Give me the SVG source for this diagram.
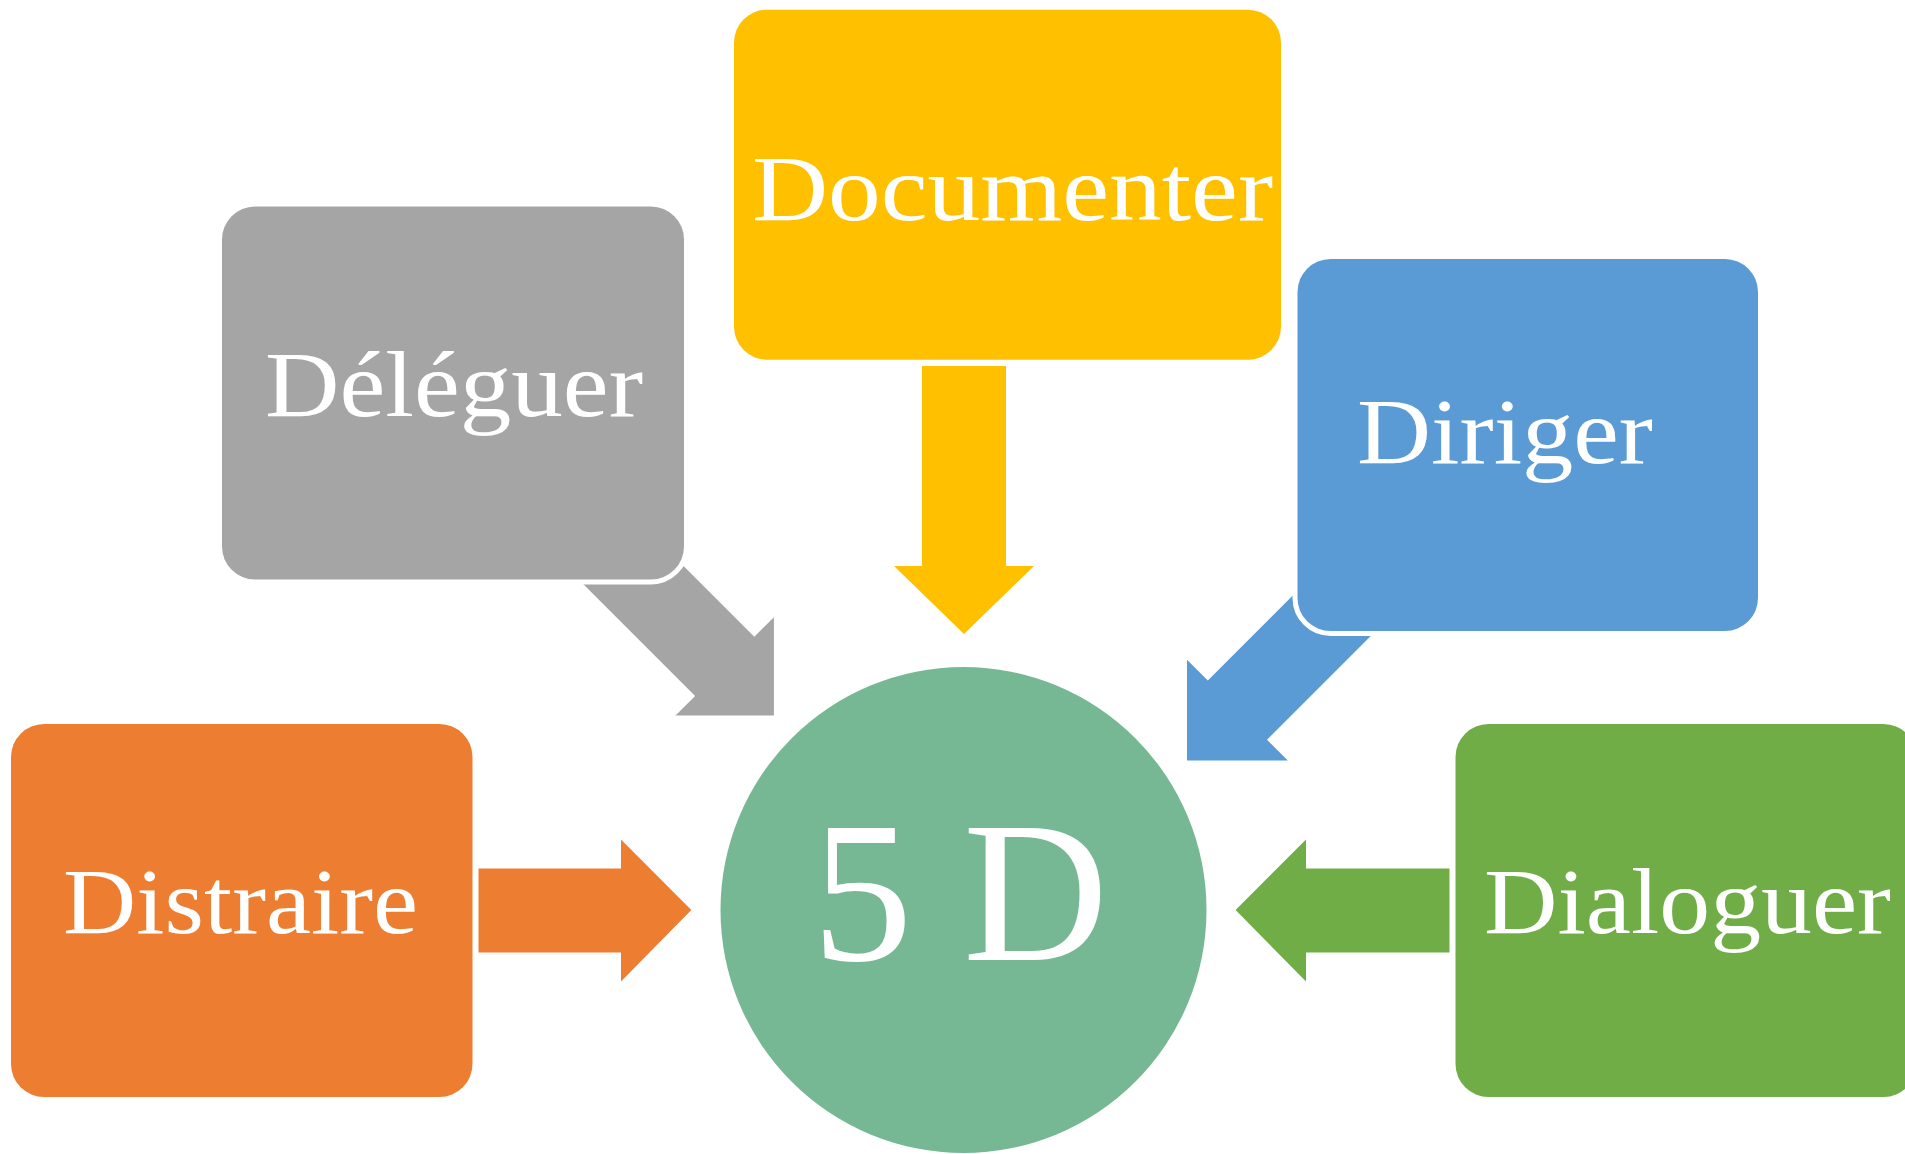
<svg xmlns="http://www.w3.org/2000/svg" width="1905" height="1154" viewBox="0 0 1905 1154">
<style>
.box{stroke:#FFFFFF;stroke-width:10;paint-order:stroke}
.lbl{font-family:"Liberation Serif","Times New Roman",serif;font-size:93px;fill:#FFFFFF}
.big{font-family:"Liberation Serif","Times New Roman",serif;font-size:201px;fill:#FFFFFF}
</style>
<rect width="1905" height="1154" fill="#FFFFFF"/>
<g id="connectors">
<polygon fill="#FFC000" points="922,366 1006,366 1006,566 1034,566 964,634 894,566 922,566"/>
<polygon fill="#ED7D31" points="478.5,868.5 621,868.5 621,839.5 691.3,910 621,981.6 621,952.5 478.5,952.5"/>
<polygon fill="#70AD47" points="1449.5,868.5 1306,868.5 1306,839.5 1235.6,910 1306,981.6 1306,952.5 1449.5,952.5"/>
<polygon fill="#A5A5A5" points="584.3,466.8 754.3,636.8 773.9,617.2 773.9,715.6 675.5,715.6 695.1,696 525.1,526"/>
<polygon fill="#5B9BD5" points="1377.8,510.5 1207.8,680.5 1187,659.7 1187,760.5 1287.8,760.5 1267,739.7 1437,569.7"/>
</g>
<g id="center">
<circle cx="963.5" cy="910" r="243" fill="#76B893"/>
<text class="big" x="812 912 963" y="960">5 D</text>
</g>
<g id="documenter">
<rect class="box" x="734" y="9.7" width="547" height="350" rx="33" fill="#FFC000"/>
<text class="lbl" x="752" y="220" textLength="521" lengthAdjust="spacingAndGlyphs">Documenter</text>
</g>
<g id="deleguer">
<rect class="box" x="222" y="206.5" width="462" height="373" rx="33" fill="#A5A5A5"/>
<text class="lbl" x="265" y="415.5" textLength="378" lengthAdjust="spacingAndGlyphs">Déléguer</text>
</g>
<g id="diriger">
<rect class="box" x="1297.5" y="259" width="460.5" height="372" rx="33" fill="#5B9BD5"/>
<text class="lbl" x="1357" y="463" textLength="296" lengthAdjust="spacingAndGlyphs">Diriger</text>
</g>
<g id="distraire">
<rect class="box" x="11" y="724" width="461.5" height="373" rx="33" fill="#ED7D31"/>
<text class="lbl" x="63" y="933" textLength="355" lengthAdjust="spacingAndGlyphs">Distraire</text>
</g>
<g id="dialoguer">
<rect class="box" x="1455.5" y="724" width="461" height="373" rx="33" fill="#70AD47"/>
<text class="lbl" x="1484" y="933" textLength="407" lengthAdjust="spacingAndGlyphs">Dialoguer</text>
</g>
</svg>
